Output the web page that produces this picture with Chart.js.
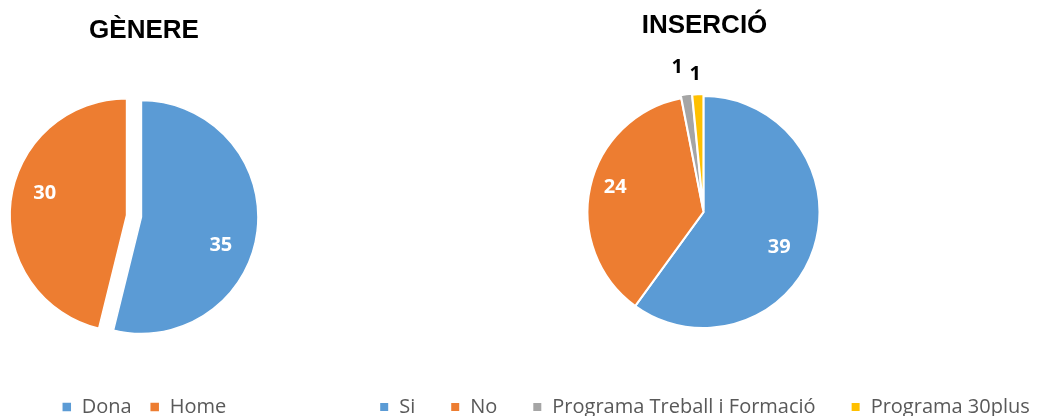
<!DOCTYPE html>
<html>
<head>
<meta charset="utf-8">
<script src="https://cdn.jsdelivr.net/npm/chart.js@4"></script>
<style>
  html, body { margin: 0; padding: 0; background: #ffffff; overflow: hidden; width: 1045px; height: 416px; }
  canvas { position: absolute; top: 0; }
  #c1 { left: 0px; }
  #c2 { left: 325px; }
</style>
</head>
<body>
<canvas id="c1" width="288" height="427"></canvas>
<canvas id="c2" width="759" height="427"></canvas>
<script>
// ---- data ----
const genereTitle = 'GÈNERE';
const genereLabels = ['Dona', 'Home'];
const genereValues = [35, 30];

const insercioTitle = 'INSERCIÓ';
const insercioLabels = ['Si', 'No', 'Programa Treball i Formació', 'Programa 30plus'];
const insercioValues = [39, 24, 1, 1];

// ---- styles ----
const BLUE = '#5B9BD5', ORANGE = '#ED7D31', GRAY = '#A5A5A5', GOLD = '#FFC000';

// spacer layout box: shifts the chart area (pie centre) without moving title/legend
const spacerPlugin = {
  id: 'spacer',
  beforeInit(chart, args, opts) {
    const size = (chart.options.plugins.spacer && chart.options.plugins.spacer.size) || 0;
    const box = {
      position: 'right', weight: 0, fullSize: false,
      options: {},
      width: 0, height: 0, left: 0, top: 0, right: 0, bottom: 0,
      isHorizontal() { return false; },
      update(maxWidth, maxHeight) { this.width = size; this.height = maxHeight; return {}; },
      draw() {}
    };
    Chart.layouts.addBox(chart, box);
  }
};

// explode slices and draw value labels
const pieExtras = {
  id: 'pieExtras',
  afterDatasetsUpdate(chart, args, opts) {
    const meta = chart.getDatasetMeta(0);
    meta.data.forEach((arc, i) => {
      const d = (opts.explode || [])[i] || 0;
      if (!d) return;
      const mid = (arc.startAngle + arc.endAngle) / 2;
      arc.x += Math.cos(mid) * d;
      arc.y += Math.sin(mid) * d;
    });
  },
  afterDatasetsDraw(chart, args, opts) {
    const ctx = chart.ctx;
    const meta = chart.getDatasetMeta(0);
    const values = chart.data.datasets[0].data;
    ctx.save();
    ctx.font = opts.font;
    ctx.textAlign = 'center';
    ctx.textBaseline = 'middle';
    meta.data.forEach((arc, i) => {
      const p = opts.labels[i];
      const ang = (arc.startAngle + arc.endAngle) / 2 + p.shift * Math.PI / 180;
      const r = arc.outerRadius * p.frac;
      ctx.fillStyle = p.color;
      ctx.fillText(String(values[i]), arc.x + Math.cos(ang) * r, arc.y + Math.sin(ang) * r);
    });
    ctx.restore();
  }
};

function makePie(canvasId, title, labels, values, colors, cfg) {
  return new Chart(document.getElementById(canvasId), {
    type: 'pie',
    data: {
      labels: labels,
      datasets: [{
        data: values,
        backgroundColor: colors,
        borderColor: '#ffffff',
        borderWidth: cfg.borderWidth
      }]
    },
    plugins: [spacerPlugin, pieExtras],
    options: {
      responsive: false,
      devicePixelRatio: 1,
      animation: false,
      radius: cfg.radius,
      layout: { padding: 0 },
      plugins: {
        tooltip: { enabled: false },
        title: {
          display: true,
          text: title,
          color: '#000000',
          font: { family: '"Liberation Sans", Arial, sans-serif', size: 26, weight: 'bold' },
          padding: { top: cfg.titleTop, bottom: cfg.titleBottom }
        },
        legend: {
          position: 'bottom',
          labels: {
            color: '#595959',
            font: { family: '"Open Sans", sans-serif', size: 20 },
            boxWidth: 10,
            boxHeight: 10,
            padding: cfg.legendPadding
          }
        },
        spacer: { size: cfg.spacer },
        pieExtras: {
          font: '700 20px "Open Sans", sans-serif',
          explode: cfg.explode,
          labels: cfg.labels
        }
      }
    }
  });
}

makePie('c1', genereTitle, genereLabels, genereValues, [BLUE, ORANGE], {
  radius: 116.5, borderWidth: 1.5,
  titleTop: 15, titleBottom: 7,
  legendPadding: 18, spacer: 20,
  explode: [7.5, 7.5],
  labels: [
    { shift: 13, frac: 0.725, color: '#ffffff' },
    { shift: 8, frac: 0.727, color: '#ffffff' }
  ]
});

makePie('c2', insercioTitle, insercioLabels, insercioValues, [BLUE, ORANGE, GRAY, GOLD], {
  radius: 116, borderWidth: 2,
  titleTop: 10, titleBottom: 21,
  legendPadding: 35, spacer: 2,
  explode: [0, 0, 3, 2],
  labels: [
    { shift: 7, frac: 0.72, color: '#ffffff' },
    { shift: 3, frac: 0.79, color: '#ffffff' },
    { shift: -2, frac: 1.24, color: '#000000' },
    { shift: -0.7, frac: 1.175, color: '#000000' }
  ]
});
</script>
</body>
</html>
